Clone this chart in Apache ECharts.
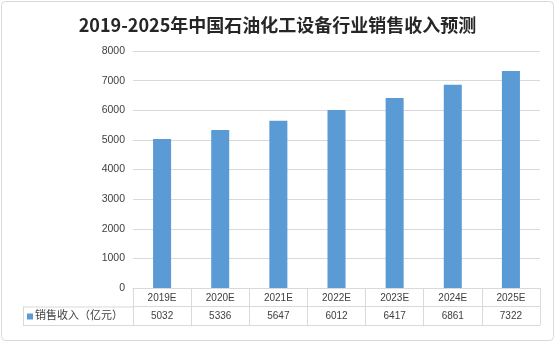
<!DOCTYPE html>
<html><head><meta charset="utf-8">
<script src="https://cdn.jsdelivr.net/npm/echarts@6/dist/echarts.min.js"></script>
<style>html,body{margin:0;padding:0;background:#fff}#c{width:555px;height:342px}</style>
</head><body><div id="c"></div>
<script>
const titleText = '2019-2025年中国石油化工设备行业销售收入预测';
const seriesName = '销售收入（亿元）';
const categories = ['2019E','2020E','2021E','2022E','2023E','2024E','2025E'];
const values = [5032, 5336, 5647, 6012, 6417, 6861, 7322];
const yTicks = [0,1000,2000,3000,4000,5000,6000,7000,8000];

const G = {left:133, right:15, top:51, bottom:54};
const W = 555, H = 342;
const gridBottomY = H - G.bottom;   // 288
const rowH = 18.5;
const lineC = '#d9d9d9';
const txtC = '#404040';
const font = '"Liberation Sans", Arial, sans-serif';

const chart = echarts.init(document.getElementById('c'), null, {renderer:'canvas'});
chart.setOption({
  backgroundColor:'#fff',
  animation:false,
  title:{text:titleText, left:'center', top:11,
    textStyle:{fontSize:18, fontWeight:'bold', color:'#262626', fontFamily:'"Noto Sans CJK SC", sans-serif'}},
  grid:{left:G.left, right:G.right, top:G.top, bottom:G.bottom, containLabel:false},
  yAxis:{type:'value', min:yTicks[0], max:yTicks[yTicks.length-1], interval:1000,
    axisLine:{show:false}, axisTick:{show:false},
    axisLabel:{color:txtC, fontSize:10.5, margin:8, fontFamily:font, formatter:v=>String(v)},
    splitLine:{lineStyle:{color:lineC, width:1}}},
  xAxis:[
    {type:'category', data:categories, position:'bottom',
      axisLine:{show:true, lineStyle:{color:lineC}},
      axisTick:{show:true, interval:0, length:rowH*2, lineStyle:{color:lineC}},
      axisLabel:{color:txtC, fontSize:10, margin:5, interval:0, fontFamily:font}},
    {type:'category', data:categories, position:'bottom', offset:rowH,
      axisLine:{show:true, lineStyle:{color:lineC}},
      axisTick:{show:false},
      axisLabel:{color:txtC, fontSize:10, margin:5, interval:0, fontFamily:font,
        formatter:(v, i)=> String(values[i])}},
    {type:'category', data:categories, position:'bottom', offset:rowH*2,
      axisLine:{show:true, lineStyle:{color:lineC}},
      axisTick:{show:false}, axisLabel:{show:false}}
  ],
  series:[{type:'bar', name:seriesName, data:values, xAxisIndex:0, barWidth:'31%',
    itemStyle:{color:'#5b9bd5'}}],
  graphic:[
    {type:'rect', shape:{x:1.5, y:1.5, width:W-3, height:H-3, r:4}, style:{fill:null, stroke:'#d9d9d9', lineWidth:1}, silent:true},
    {type:'line', shape:{x1:23, y1:gridBottomY+rowH+0.5, x2:G.left, y2:gridBottomY+rowH+0.5}, style:{stroke:lineC, lineWidth:1}},
    {type:'line', shape:{x1:23, y1:gridBottomY+rowH*2+0.5, x2:G.left, y2:gridBottomY+rowH*2+0.5}, style:{stroke:lineC, lineWidth:1}},
    {type:'line', shape:{x1:23.5, y1:gridBottomY+rowH, x2:23.5, y2:gridBottomY+rowH*2}, style:{stroke:lineC, lineWidth:1}},
    {type:'rect', shape:{x:27, y:gridBottomY+rowH+7, width:6, height:6}, style:{fill:'#5b9bd5'}},
    {type:'text', left:35, top:gridBottomY+rowH+3,
      style:{text:seriesName, fill:txtC, fontSize:11, fontFamily:'"Noto Sans CJK SC", sans-serif'}}
  ]
});
</script></body></html>
